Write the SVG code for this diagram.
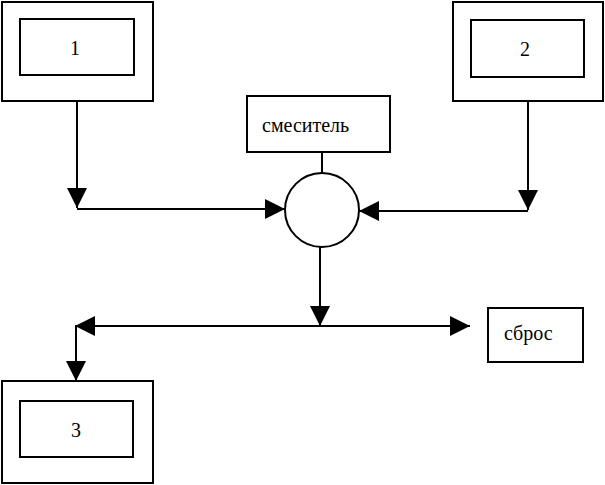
<svg xmlns="http://www.w3.org/2000/svg" width="605" height="485" viewBox="0 0 605 485">
<style>
.box{fill:#fff;stroke:#000;stroke-width:2}
.ln{fill:none;stroke:#000;stroke-width:2}
.t{font-family:"Liberation Serif","Times New Roman",serif;font-size:20px;fill:#000}
</style>
<defs>
<marker id="ah" viewBox="0 0 20 20" refX="20" refY="10" markerWidth="20" markerHeight="20" markerUnits="userSpaceOnUse" orient="auto">
<path d="M0,0 L20,10 L0,20 Z" fill="#000"/>
</marker>
</defs>
<rect width="605" height="485" fill="#fff"/>
<g id="node1">
<rect class="box" x="2" y="2" width="151" height="99"/>
<rect class="box" x="20" y="19" width="114" height="56"/>
<text class="t" x="75" y="55" text-anchor="middle">1</text>
</g>
<g id="node2">
<rect class="box" x="453" y="2" width="150" height="99"/>
<rect class="box" x="471" y="20" width="113" height="57"/>
<text class="t" x="525" y="56" text-anchor="middle">2</text>
</g>
<g id="mixer-label">
<rect class="box" x="247" y="96" width="143" height="56"/>
<text class="t" x="262" y="132">смеситель</text>
</g>
<g id="mixer">
<circle class="box" cx="322" cy="210" r="37"/>
</g>
<g id="sbros">
<rect class="box" x="488" y="308" width="95" height="54"/>
<text class="t" x="504" y="340">сброс</text>
</g>
<g id="node3">
<rect class="box" x="2" y="381" width="151" height="102"/>
<rect class="box" x="20" y="401" width="113" height="56"/>
<text class="t" x="76" y="437" text-anchor="middle">3</text>
</g>
<g id="connectors">
<line class="ln" x1="322" y1="152" x2="322" y2="173"/>
<line class="ln" x1="77" y1="101" x2="77" y2="208" marker-end="url(#ah)"/>
<line class="ln" x1="77" y1="209" x2="285" y2="209" marker-end="url(#ah)"/>
<line class="ln" x1="528" y1="101" x2="528" y2="210" marker-end="url(#ah)"/>
<line class="ln" x1="528" y1="211" x2="359" y2="211" marker-end="url(#ah)"/>
<line class="ln" x1="320" y1="247" x2="320" y2="326" marker-end="url(#ah)"/>
<line class="ln" x1="320" y1="326" x2="75" y2="326" marker-end="url(#ah)"/>
<line class="ln" x1="320" y1="326" x2="470" y2="326" marker-end="url(#ah)"/>
<line class="ln" x1="76" y1="326" x2="76" y2="381" marker-end="url(#ah)"/>
</g>
</svg>
